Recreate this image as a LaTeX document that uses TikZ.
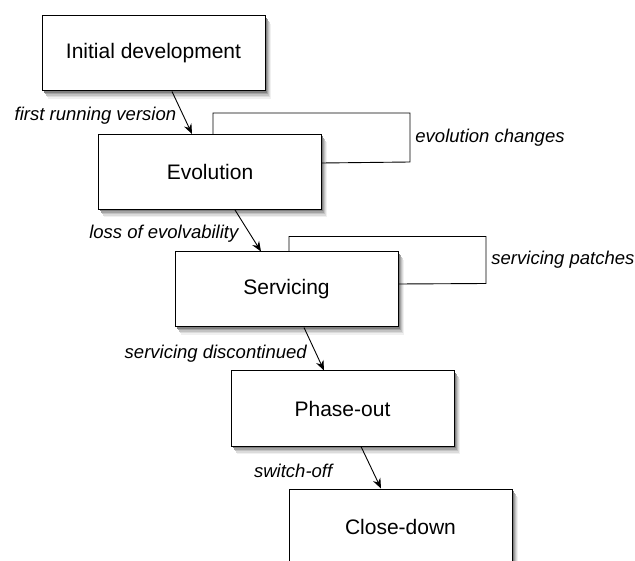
\documentclass[tikz,border=0pt]{standalone}
\usepackage{fontspec}
\setmainfont{Liberation Sans}
\usetikzlibrary{arrows.meta}

\definecolor{shadeA}{gray}{0.94}
\definecolor{shadeB}{gray}{0.86}
\definecolor{shadeC}{gray}{0.76}
\definecolor{shadeD}{gray}{0.64}
\definecolor{shadeE}{gray}{0.50}

\tikzset{
  phase/.style={draw=black, line width=1pt, fill=white,
    minimum width=223pt, minimum height=75pt, inner sep=0pt,
    font=\fontsize{21}{25}\selectfont},
  trans/.style={draw=black, line width=0.9pt,
    -{Stealth[length=10pt, width=8pt]}},
  loopline/.style={draw=black, line width=0.9pt},
  lbl/.style={font=\fontsize{18.5}{22}\selectfont\itshape, inner sep=0pt}
}

\begin{document}
\begin{tikzpicture}[x=1pt, y=-1pt]
  \useasboundingbox (0,0) rectangle (635,561);

  % soft drop shadows: stacked grey boxes, farthest and lightest first
  \foreach \cx/\cy in {153.5/53.5, 210/172, 286.5/289.5, 342.5/408.5, 400.5/526.5} {
    \foreach \dx/\dy/\c in {5.5/8/shadeA, 4.5/6.5/shadeB, 3.5/5/shadeC,
                            2.5/3.5/shadeD, 1.5/2/shadeE} {
      \fill[\c] (\cx-111.5+\dx, \cy-37.5+\dy) rectangle (\cx+111.5+\dx, \cy+37.5+\dy);
    }
  }

  % lifecycle stages
  \node[phase] (init)  at (153.5,53.5)  {Initial development};
  \node[phase] (evo)   at (210,172)     {Evolution};
  \node[phase] (serv)  at (286.5,289.5) {Servicing};
  \node[phase] (phase) at (342.5,408.5) {Phase-out};
  \node[phase] (close) at (400.5,526.5) {Close-down};

  % repeated work within a stage
  \draw[loopline] ([xshift=3pt]evo.north) -- ++(0,-21) -- ++(197,0)
    -- node[lbl, anchor=west, xshift=5pt] {evolution changes} ++(0,49)
    -- ([yshift=9pt]evo.east);
  \draw[loopline] ([xshift=2.5pt]serv.north) -- ++(0,-15) -- ++(197,0)
    -- node[lbl, anchor=west, xshift=5pt] {servicing patches} ++(0,47)
    -- ([yshift=5.5pt]serv.east);

  % transitions between stages
  \draw[trans] ([xshift=18.5pt]init.south) --
    node[lbl, pos=0.58, anchor=east, xshift=-7pt] {first running version}
    ([xshift=-18pt]evo.north);
  \draw[trans] ([xshift=25pt]evo.south) --
    node[lbl, pos=0.57, anchor=east, xshift=-11pt] {loss of evolvability}
    ([xshift=-25.5pt]serv.north);
  \draw[trans] ([xshift=17.5pt]serv.south) --
    node[lbl, pos=0.61, anchor=east, xshift=-9pt] {servicing discontinued}
    ([xshift=-18.5pt]phase.north);
  \draw[trans] ([xshift=18.5pt]phase.south) --
    node[lbl, pos=0.585, anchor=east, xshift=-40pt] {switch-off}
    ([xshift=-19.5pt]close.north);
\end{tikzpicture}
\end{document}
